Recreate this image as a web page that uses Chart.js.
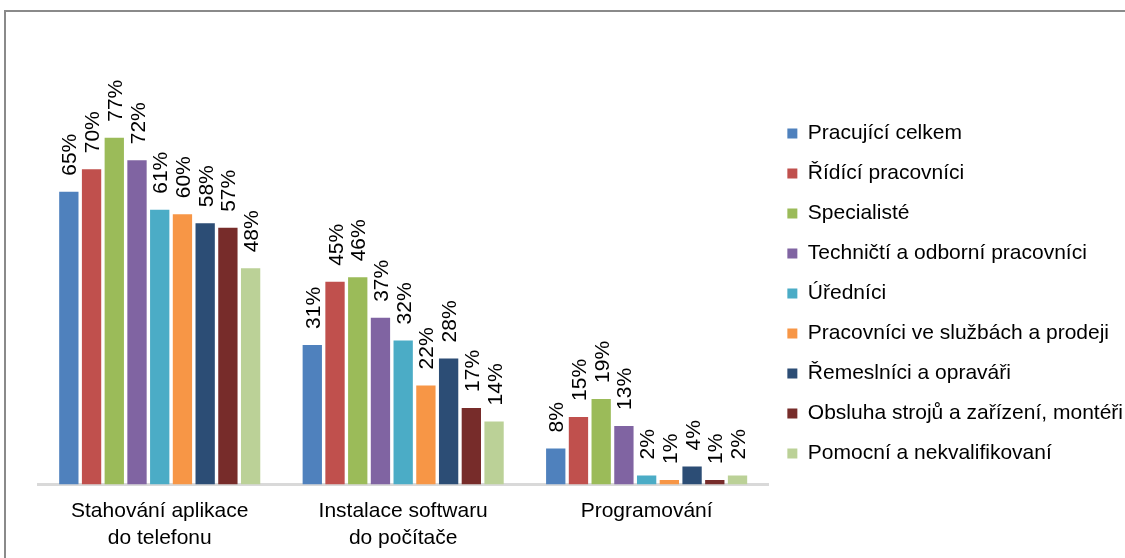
<!DOCTYPE html>
<html>
<head>
<meta charset="utf-8">
<script src="https://cdn.jsdelivr.net/npm/chart.js@4"></script>
<style>
  html, body { margin: 0; padding: 0; background: #fff; overflow: hidden; }
  #frame {
    position: absolute; left: 4px; top: 10px;
    width: 1129px; height: 555px;
    border-left: 2px solid #8a8a8a; border-top: 2px solid #8a8a8a;
  }
  #wrap { position: absolute; left: 0; top: 0; width: 1127px; height: 553px; }
</style>
</head>
<body>
<div id="frame"><div id="wrap"><canvas id="chartBars"></canvas></div></div>
<script>
// categories and series
var categories = [['Stahování aplikace', 'do telefonu'], ['Instalace softwaru', 'do počítače'], 'Programování'];
var seriesNames = ['Pracující celkem', 'Řídící pracovníci', 'Specialisté', 'Techničtí a odborní pracovníci',
    'Úředníci', 'Pracovníci ve službách a prodeji', 'Řemeslníci a opraváři',
    'Obsluha strojů a zařízení, montéři', 'Pomocní a nekvalifikovaní'];
var celkem      = [65, 31, 8];
var ridici      = [70, 45, 15];
var specialiste = [77, 46, 19];
var technicti   = [72, 37, 13];
var urednici    = [61, 32, 2];
var sluzby      = [60, 22, 1];
var remeslnici  = [58, 28, 4];
var obsluha     = [57, 17, 1];
var pomocni     = [48, 14, 2];
var seriesValues = [celkem, ridici, specialiste, technicti, urednici, sluzby, remeslnici, obsluha, pomocni];
var colors = ['#4F81BD', '#C0504D', '#9BBB59', '#8064A2', '#4BACC6', '#F79646', '#2C4D75', '#772C2A', '#BBD197'];

Chart.defaults.font.family = 'Arial, "Liberation Sans", sans-serif';
Chart.defaults.font.size = 21;
Chart.defaults.color = '#000';

/** rotated value labels above bars **/
var barLabels = {
    id: 'barLabels',
    afterDatasetsDraw: function (chart) {
        var ctx = chart.ctx;
        ctx.save();
        ctx.font = '21px Arial, "Liberation Sans", sans-serif';
        ctx.fillStyle = '#000';
        ctx.textAlign = 'left';
        ctx.textBaseline = 'alphabetic';
        chart.data.datasets.forEach(function (ds, i) {
            chart.getDatasetMeta(i).data.forEach(function (bar, j) {
                ctx.save();
                ctx.translate(bar.x + 7.5, bar.y - 16);
                ctx.rotate(-Math.PI / 2);
                ctx.fillText(ds.data[j] + '%', 0, 0);
                ctx.restore();
            });
        });
        ctx.restore();
    }
};

var datasets = seriesNames.map(function (name, i) {
    return {
        label: name,
        data: seriesValues[i],
        backgroundColor: colors[i],
        categoryPercentage: 0.84,
        barPercentage: 0.85
    };
});

var ctx = document.getElementById('chartBars');
var myBarChart = new Chart(ctx, {
    type: 'bar',
    data: { labels: categories, datasets: datasets },
    options: {
        maintainAspectRatio: false,
        responsive: true,
        animation: false,
        layout: { padding: { left: 32, top: 10, right: 0, bottom: 0 } },
        plugins: {
            tooltip: { enabled: false },
            legend: {
                position: 'right',
                labels: { boxWidth: 10, boxHeight: 10, padding: 19, font: { size: 21 } }
            }
        },
        scales: {
            x: {
                grid: { display: false, drawTicks: false },
                border: { display: true, color: '#d9d9d9', width: 3 },
                ticks: { maxRotation: 0, padding: 14, font: { size: 21, lineHeight: 1.25 } }
            },
            y: {
                display: false,
                min: 0,
                max: 102.7
            }
        }
    },
    plugins: [barLabels]
});
</script>
</body>
</html>
